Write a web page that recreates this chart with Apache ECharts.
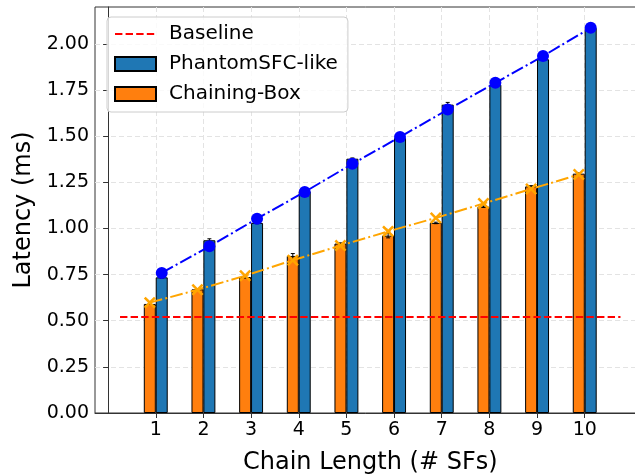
<!DOCTYPE html>
<html>
<head>
<meta charset="utf-8">
<script src="https://cdn.jsdelivr.net/npm/echarts@6/dist/echarts.min.js"></script>
<style>html,body{margin:0;padding:0;background:#fff;}#c{width:635px;height:474px;}</style>
</head>
<body>
<div id="c"></div>
<script>
const categories = [1, 2, 3, 4, 5, 6, 7, 8, 9, 10];
const phantomBars = [0.735, 0.936, 1.030, 1.201, 1.378, 1.490, 1.671, 1.779, 1.917, 2.087];
const phantomErr  = [0.004, 0.008, 0.004, 0.005, 0.004, 0.004, 0.012, 0.004, 0.005, 0.004];
const phantomLine = [0.759, 0.903, 1.053, 1.198, 1.350, 1.496, 1.644, 1.789, 1.934, 2.087];
const boxBars = [0.591, 0.670, 0.737, 0.851, 0.918, 0.961, 1.030, 1.118, 1.228, 1.297];
const boxErr  = [0.003, 0.004, 0.006, 0.013, 0.004, 0.012, 0.004, 0.004, 0.004, 0.004];
const boxLine = [0.598, 0.668, 0.744, 0.828, 0.907, 0.984, 1.057, 1.135, 1.214, 1.292];
const baselineValue = 0.52;
const yTicks = [0, 0.25, 0.5, 0.75, 1.0, 1.25, 1.5, 1.75, 2.0];

const barOffset = 0.125;
const font = 'DejaVu Sans';

const phantomBarData = categories.map((c, i) => [c + barOffset, phantomBars[i]]);
const boxBarData = categories.map((c, i) => [c - barOffset, boxBars[i]]);
const phantomLineData = categories.map((c, i) => [c + barOffset, phantomLine[i]]);
const boxLineData = categories.map((c, i) => [c - barOffset, boxLine[i]]);
const errData = categories.map((c, i) => [c + barOffset, phantomBars[i], phantomErr[i]])
  .concat(categories.map((c, i) => [c - barOffset, boxBars[i], boxErr[i]]));
const baselineData = [[categories[0] - 0.75, baselineValue], [categories[categories.length - 1] + 0.75, baselineValue]];

const xMark = 'path://M1.5,0 L5,3.5 L8.5,0 L10,1.5 L6.5,5 L10,8.5 L8.5,10 L5,6.5 L1.5,10 L0,8.5 L3.5,5 L0,1.5 Z';

const chart = echarts.init(document.getElementById('c'), null, {renderer: 'canvas'});
chart.setOption({
  animation: false,
  backgroundColor: '#fff',
  textStyle: {fontFamily: font},
  grid: {left: 95, right: -10.5, top: 7, bottom: 61, show: true, borderColor: '#333', borderWidth: 1, outerBoundsMode: 'none'},
  legend: {
    data: [
      {name: 'Baseline', itemStyle: {opacity: 0}},
      {name: 'PhantomSFC-like', icon: 'rect'},
      {name: 'Chaining-Box', icon: 'rect'}
    ],
    orient: 'vertical',
    left: 107, top: 17,
    itemWidth: 41, itemHeight: 14, itemGap: 10,
    padding: [7, 10, 8, 7],
    borderColor: '#ccc', borderWidth: 1, borderRadius: 4,
    backgroundColor: 'rgba(255,255,255,0.8)',
    textStyle: {fontFamily: font, fontSize: 20, color: '#000', padding: [0, 0, 0, 8]}
  },
  xAxis: {
    type: 'value', min: -0.275, max: 11.275,
    name: 'Chain Length (# SFs)', nameLocation: 'middle', nameGap: 38,
    nameTextStyle: {fontFamily: font, fontSize: 24, color: '#000'},
    axisLine: {show: true, lineStyle: {color: '#333', width: 1}},
    axisTick: {show: true, length: 5, lineStyle: {color: '#333'}, customValues: categories},
    axisLabel: {fontFamily: font, fontSize: 19, color: '#000', margin: 8, customValues: categories, formatter: v => String(v)},
    splitLine: {show: true, lineStyle: {color: '#e3e3e3', type: [5, 3], width: 1}}
  },
  yAxis: {
    type: 'value', min: 0, max: 2.2,
    name: 'Latency (ms)', nameLocation: 'middle', nameGap: 45,
    nameTextStyle: {fontFamily: font, fontSize: 24, color: '#000'},
    axisLine: {show: true, lineStyle: {color: '#333', width: 1}},
    axisTick: {show: true, length: 5, lineStyle: {color: '#333'}, customValues: yTicks},
    axisLabel: {fontFamily: font, fontSize: 19, color: '#000', margin: 6, customValues: yTicks, formatter: v => v.toFixed(2)},
    splitLine: {show: true, lineStyle: {color: '#e3e3e3', type: [5, 3], width: 1}}
  },
  series: [
    {
      name: 'Baseline', type: 'line', data: baselineData, symbol: 'none', z: 3,
      lineStyle: {color: '#ff0000', width: 2, type: [7.4, 3.2]}, itemStyle: {color: '#ff0000'}
    },
    {
      name: 'PhantomSFC-like', type: 'bar', data: phantomBarData, barWidth: 12, barGap: '-100%', z: 2,
      itemStyle: {color: '#1f77b4', borderColor: '#000', borderWidth: 1}
    },
    {
      name: 'Chaining-Box', type: 'bar', data: boxBarData, barWidth: 12, barGap: '-100%', z: 2,
      itemStyle: {color: '#ff7f0e', borderColor: '#000', borderWidth: 1}
    },
    {
      name: 'err', type: 'custom', data: errData, z: 4,
      renderItem: function (params, api) {
        const x = api.value(0), y = api.value(1), e = api.value(2);
        const lo = api.coord([x, y - e]), hi = api.coord([x, y + e]);
        const st = {stroke: '#000', lineWidth: 1};
        return {type: 'group', children: [
          {type: 'line', shape: {x1: lo[0], y1: lo[1], x2: hi[0], y2: hi[1]}, style: st},
          {type: 'line', shape: {x1: lo[0] - 2, y1: lo[1], x2: lo[0] + 2, y2: lo[1]}, style: st},
          {type: 'line', shape: {x1: hi[0] - 2, y1: hi[1], x2: hi[0] + 2, y2: hi[1]}, style: st}
        ]};
      }
    },
    {
      name: 'PhantomSFC-like model', type: 'line', data: phantomLineData, z: 5,
      symbol: 'circle', symbolSize: 12,
      lineStyle: {color: '#0000ff', width: 2, type: [12.8, 3.2, 2, 3.2]},
      itemStyle: {color: '#0000ff'}
    },
    {
      name: 'Chaining-Box model', type: 'line', data: boxLineData, z: 5,
      symbol: xMark, symbolSize: 12,
      lineStyle: {color: '#ffa500', width: 2, type: [12.8, 3.2, 2, 3.2]},
      itemStyle: {color: '#ffa500'}
    }
  ]
});
</script>
</body>
</html>
